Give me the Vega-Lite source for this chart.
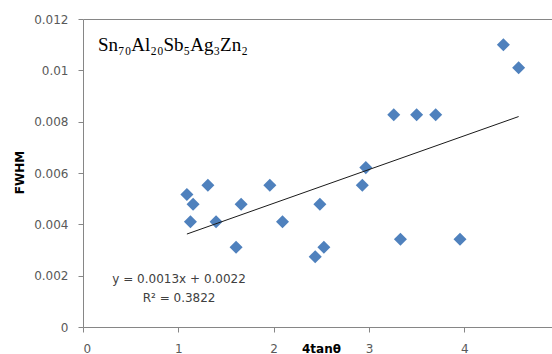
{
  "$schema": "https://vega.github.io/schema/vega-lite/v6.json",
  "width": 469,
  "height": 308,
  "autosize": "none",
  "padding": {"left": 83, "top": 19, "right": 0, "bottom": 27},
  "background": "white",
  "config": {
    "view": {"stroke": null},
    "axis": {
      "domainColor": "#868686",
      "tickColor": "#868686",
      "tickSize": 5,
      "labelFont": "DejaVu Sans",
      "labelFontSize": 12,
      "labelColor": "#595959",
      "titleFont": "DejaVu Sans",
      "titleFontSize": 12,
      "titleFontWeight": "bold",
      "titleColor": "#000000"
    }
  },
  "datasets": {
    "pts": [
      {"tan4": 1.09, "fwhm": 0.00516},
      {"tan4": 1.155, "fwhm": 0.00478},
      {"tan4": 1.127, "fwhm": 0.0041},
      {"tan4": 1.31, "fwhm": 0.00552},
      {"tan4": 1.396, "fwhm": 0.0041},
      {"tan4": 1.606, "fwhm": 0.00311},
      {"tan4": 1.659, "fwhm": 0.00478},
      {"tan4": 1.96, "fwhm": 0.00552},
      {"tan4": 2.093, "fwhm": 0.0041},
      {"tan4": 2.485, "fwhm": 0.00478},
      {"tan4": 2.436, "fwhm": 0.00274},
      {"tan4": 2.527, "fwhm": 0.00311},
      {"tan4": 2.93, "fwhm": 0.00552},
      {"tan4": 2.967, "fwhm": 0.00621},
      {"tan4": 3.26, "fwhm": 0.00827},
      {"tan4": 3.5, "fwhm": 0.00827},
      {"tan4": 3.7, "fwhm": 0.00827},
      {"tan4": 3.33, "fwhm": 0.00342},
      {"tan4": 3.955, "fwhm": 0.00342},
      {"tan4": 4.41, "fwhm": 0.011},
      {"tan4": 4.57, "fwhm": 0.0101}
    ]
  },
  "layer": [
    {
      "data": {"name": "pts"},
      "mark": {"type": "point", "shape": "diamond", "filled": true, "size": 170, "color": "#4F81BD", "opacity": 1},
      "encoding": {
        "x": {
          "field": "tan4", "type": "quantitative",
          "scale": {"domain": [0, 4.92], "nice": false, "zero": false},
          "axis": {
            "values": [0, 1, 2, 3, 4],
            "format": "d",
            "grid": false,
            "labelPadding": 16,
            "labelBaseline": "middle",
            "title": "4tanθ",
            "titleX": 238,
            "titleY": 21,
            "titleBaseline": "middle",
            "titleAlign": "center"
          }
        },
        "y": {
          "field": "fwhm", "type": "quantitative",
          "scale": {"domain": [0, 0.012], "nice": false},
          "axis": {
            "values": [0, 0.002, 0.004, 0.006, 0.008, 0.01, 0.012],
            "format": "~g",
            "labelPadding": 10,
            "grid": true,
            "gridColor": "#868686",
            "gridOpacity": {"condition": {"test": "datum.value > 0.0119", "value": 1}, "value": 0},
            "title": "FWHM",
            "titleX": -64,
            "titleY": 153,
            "titleBaseline": "middle",
            "titleAlign": "center"
          }
        }
      }
    },
    {
      "data": {"name": "pts"},
      "transform": [{"regression": "fwhm", "on": "tan4"}],
      "mark": {"type": "line", "color": "#1a1a1a", "strokeWidth": 1},
      "encoding": {
        "x": {"field": "tan4", "type": "quantitative"},
        "y": {"field": "fwhm", "type": "quantitative"}
      }
    },
    {
      "data": {"values": [{"x": 0.157, "y": 0.01075, "label": "Sn₇₀Al₂₀Sb₅Ag₃Zn₂"}]},
      "mark": {"type": "text", "align": "left", "baseline": "alphabetic", "font": "Liberation Serif", "fontSize": 19, "color": "#000000"},
      "encoding": {
        "x": {"field": "x", "type": "quantitative"},
        "y": {"field": "y", "type": "quantitative"},
        "text": {"field": "label"}
      }
    },
    {
      "data": {"values": [
        {"x": 1.008, "y": 0.001714, "label": "y = 0.0013x + 0.0022"},
        {"x": 1.008, "y": 0.000974, "label": "R² = 0.3822"}
      ]},
      "mark": {"type": "text", "align": "center", "baseline": "alphabetic", "font": "DejaVu Sans", "fontSize": 12, "color": "#404040"},
      "encoding": {
        "x": {"field": "x", "type": "quantitative"},
        "y": {"field": "y", "type": "quantitative"},
        "text": {"field": "label"}
      }
    }
  ]
}
